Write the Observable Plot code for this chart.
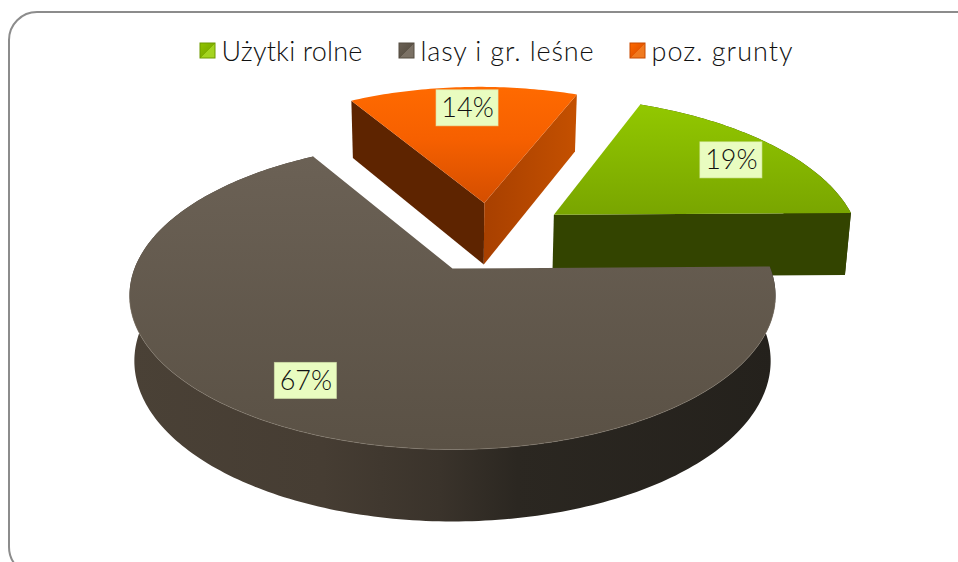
<!DOCTYPE html>
<html><head><meta charset="utf-8">
<script src="https://cdn.jsdelivr.net/npm/d3@7"></script>
<script src="https://cdn.jsdelivr.net/npm/@observablehq/plot@0.6"></script>
<style>
html,body{margin:0;padding:0;background:#fff;overflow:hidden}
</style></head><body><div id="chart"></div>
<script>
const categories = ["Użytki rolne", "lasy i gr. leśne", "poz. grunty"];
const shares = [19, 67, 14];
const labels = ["19%", "67%", "14%"];
// the reference's 3D perspective skews each slice's apparent sweep (degrees)
const sweepSkew = [-2.16, -0.72, 2.4];
const labelRadius = [0.80, 0.78, 0.847];
const labelTurn = [0, 2, 0.5];
const arcStretch = [1.06, 1, 1.07];
const sliceLift = [-0.02, 0, 0];
const sliceShift = [0.003, 0, 0];
const legendColors = ["url(#swG)", "url(#swB)", "url(#swO)"];
const legendEdges = ["#6f9a00", "#554c41", "#c84a00"];
const legendX = [200, 399, 630];
const legendTextX = [221, 420, 651];
const legendWidth = [141, 174, 142];

const W = 958, H = 562;
const startAngle = 23, explode = 0.255;
const ell = {cx: 452, cy: 295, rx: 323, ry: 154, q0: -0.175};
const base = {scale: 0.985, k: 1.042, d: 53.1};

const rad = d => d * Math.PI / 180;
const dir = a => [Math.sin(rad(a)), -Math.cos(rad(a))];
function project([u, v]) {
  const w = 1 + ell.q0 * v;
  return [ell.cx + ell.rx * u * Math.sqrt(1 - ell.q0 ** 2) / w, ell.cy + ell.ry * (v + ell.q0) / w];
}
const lower = ([x, y]) => [ell.cx + (x - ell.cx) * base.scale, base.k * y + base.d];

let a = startAngle;
const slices = shares.map((s, i) => {
  const a0 = a, a1 = a + s * 3.6 + sweepSkew[i]; a = a1;
  return {i, a0, a1, mid: (a0 + a1) / 2};
});
const refDir = dir(slices[1].mid);
slices.forEach(s => {
  const m = dir(s.mid);
  s.off = [explode * (m[0] - refDir[0]) + sliceShift[s.i], explode * (m[1] - refDir[1]) + sliceLift[s.i]];
  s.disk = ([u, v]) => project([u + s.off[0], v + s.off[1]]);
  const n = Math.ceil(s.a1 - s.a0);
  s.tip = s.disk([0, 0]);
  s.arc = d3.range(n + 1).map(k => {
    const [u, v] = dir(s.a0 + (s.a1 - s.a0) * k / n);
    return s.disk([u, v < 0 ? v * arcStretch[s.i] : v]);
  });
  s.top = [s.tip, ...s.arc];
  s.rim = [...s.arc, ...s.arc.map(lower).reverse()];
  s.cutStart = [s.tip, s.arc[0], lower(s.arc[0]), lower(s.tip)];
  s.cutEnd = [s.tip, s.arc[n], lower(s.arc[n]), lower(s.tip)];
  s.floor = s.top.map(lower).map(([x, y]) => [x + 3, y + 3]);
  const l = dir(s.mid + labelTurn[s.i]);
  s.label = s.disk([l[0] * labelRadius[s.i], l[1] * labelRadius[s.i]]);
});
const [green, brown, orange] = slices;
const brownFront = brown.arc.filter(p => p[1] > 300);

const face = (pts, fill, extra = {}) => Plot.line(pts, {x: d => d[0], y: d => d[1], fill, stroke: "none", ...extra});

function defs() {
  const d = d3.create("svg:defs");
  const grad = (id, stops, [x1, y1, x2, y2]) => {
    const g = d.append("linearGradient").attr("id", id).attr("x1", x1).attr("y1", y1).attr("x2", x2).attr("y2", y2);
    stops.forEach(([o, c]) => g.append("stop").attr("offset", o).attr("stop-color", c));
  };
  const V = [0, 0, 0, 1], Hz = [0, 0, 1, 0], D = [0, 0, 1, 1];
  grad("topG", [[0, "#92c800"], [1, "#79a500"]], V);
  grad("topB", [[0, "#6b6155"], [1, "#5a5145"]], V);
  grad("topO", [[0, "#ff6a00"], [0.45, "#f66000"], [1, "#d44e00"]], V);
  grad("wallB", [[0, "#4a4136"], [0.3, "#463d33"], [0.48, "#3a332b"], [0.6, "#2b2721"], [1, "#24211c"]], Hz);
  grad("wallO", [[0, "#a84000"], [1, "#c45000"]], Hz);
  grad("swG", [[0, "#90c400"], [0.5, "#80b000"], [0.52, "#a4d420"], [1, "#a4d420"]], D);
  grad("swB", [[0, "#6b6155"], [0.5, "#5d5448"], [0.52, "#7b7165"], [1, "#7b7165"]], D);
  grad("swO", [[0, "#ff6a00"], [0.5, "#e85800"], [0.52, "#f07a20"], [1, "#f07a20"]], D);
  const f = d.append("filter").attr("id", "soft").attr("x", "-10%").attr("y", "-10%").attr("width", "120%").attr("height", "120%");
  f.append("feGaussianBlur").attr("stdDeviation", 2.5);
  return d.node();
}

const boxes = slices.map(s => ({x1: s.label[0] - 31, x2: s.label[0] + 31, y1: s.label[1] - 18, y2: s.label[1] + 18}));
const legend = categories.map((c, i) => ({c, i}));
const font = {fontFamily: "Lato, 'Open Sans', sans-serif", fontWeight: 300};
const shadow = {ariaLabel: "shadow", fillOpacity: 0.7};

const chart = Plot.plot({
  width: W, height: H, margin: 0,
  x: {domain: [0, W], range: [0, W], axis: null},
  y: {domain: [0, H], range: [0, H], axis: null},
  style: {background: "#fff", overflow: "hidden"},
  marks: [
    defs,
    Plot.rect([{x1: 9, x2: 984, y1: 12, y2: 575}], {x1: "x1", x2: "x2", y1: "y1", y2: "y2", rx: 28, fill: "#fff", stroke: "#8c8c8c", strokeWidth: 2}),
    face(orange.floor, "#888", shadow),
    face(green.floor, "#888", shadow),
    face(orange.cutStart, "#5e2400"),
    face(orange.cutEnd, "url(#wallO)"),
    face(orange.top, "url(#topO)"),
    face(green.rim, "#2e3d00"),
    face(green.cutEnd, "#334400"),
    face(green.top, "url(#topG)"),
    face(brown.floor, "#888", shadow),
    face(brown.rim, "url(#wallB)"),
    face(brown.top, "url(#topB)"),
    Plot.line(brownFront, {x: d => d[0], y: d => d[1], stroke: "#8a8072", strokeOpacity: 0.5, strokeWidth: 1}),
    Plot.rect(boxes, {x1: "x1", x2: "x2", y1: "y1", y2: "y2", fill: "#e9fcc0", stroke: "#dfeeb4", strokeOpacity: 0.6}),
    Plot.text(slices, {x: s => s.label[0], y: s => s.label[1], text: s => labels[s.i], fontSize: 27, fill: "#111", ...font}),
    Plot.rect(legend, {x1: d => legendX[d.i], x2: d => legendX[d.i] + 15, y1: () => 43, y2: () => 58, fill: d => legendColors[d.i], stroke: d => legendEdges[d.i], strokeWidth: 1}),
    Plot.text(legend, {x: d => legendTextX[d.i], y: () => 52, text: "c", textAnchor: "start", fontSize: 27, fill: "#111", ...font})
  ]
});
document.getElementById("chart").append(chart);
// fit the legend words to the width they take in the reference's wider typeface
d3.select(chart).selectAll("text").each(function () {
  const k = categories.indexOf(this.textContent);
  if (k >= 0) this.style.letterSpacing = (legendWidth[k] - this.getComputedTextLength()) / this.textContent.length + "px";
});
// soften the cast shadows
d3.select(chart).selectAll("path").filter(function () {
  return this.parentNode.getAttribute("aria-label") === "shadow" || this.parentNode.parentNode.getAttribute("aria-label") === "shadow";
}).attr("filter", "url(#soft)");
</script></body></html>
